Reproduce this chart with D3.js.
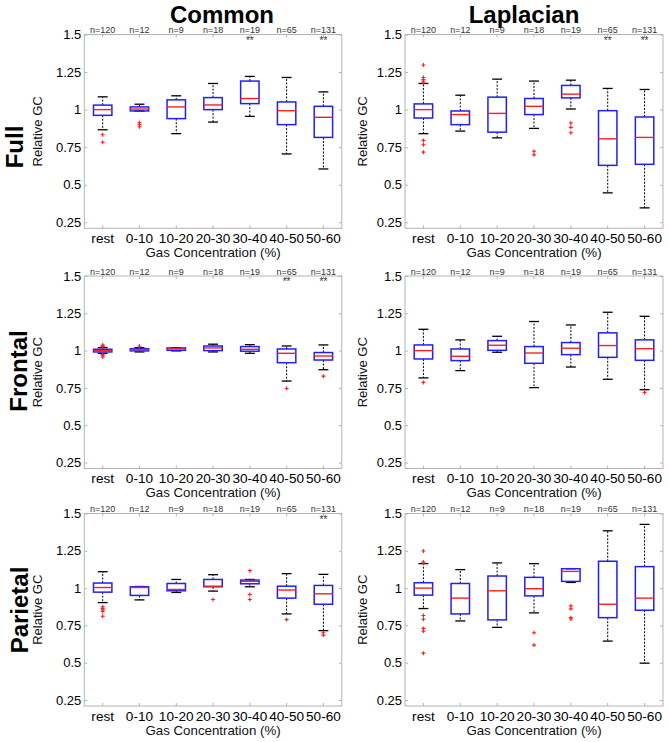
<!DOCTYPE html>
<html><head><meta charset="utf-8">
<script src="https://cdn.jsdelivr.net/npm/d3@7"></script>
<style>
body{margin:0;background:#fff;}
svg{display:block;font-family:"Liberation Sans",Arial,sans-serif;}
</style></head>
<body><svg id="chart" width="669" height="742"></svg>
<script>
// ---------- data ----------
const categories = ["rest","0-10","10-20","20-30","30-40","40-50","50-60"];
const nLabels = ["n=120","n=12","n=9","n=18","n=19","n=65","n=131"];
const yTicks = [0.25,0.5,0.75,1,1.25,1.5];
const yTickLabels = ["0.25","0.5","0.75","1","1.25","1.5"];
const colTitles = ["Common","Laplacian"];
const rowTitles = ["Full","Frontal","Parietal"];

// [lower whisker, Q1, median, Q3, upper whisker]
const fullCommonStats = [[0.866,0.962,1.0,1.03,1.085],[0.991,0.991,1.004,1.018,1.036],[0.84,0.94,1.018,1.065,1.092],[0.917,1.0,1.031,1.08,1.174],[0.955,1.04,1.074,1.19,1.221],[0.705,0.9,0.993,1.051,1.214],[0.605,0.815,0.949,1.022,1.118]];
const fullCommonOutliers = [[0.833,0.783],[0.913,0.9,0.886],[],[],[],[],[]];
const fullCommonSig = ["","","","","**","","**"];

const fullLapStats = [[0.84,0.944,1.0,1.038,1.174],[0.857,0.9,0.967,0.991,1.096],[0.812,0.85,0.975,1.083,1.203],[0.875,0.967,1.022,1.074,1.19],[1.004,1.078,1.103,1.161,1.196],[0.446,0.629,0.806,0.993,1.141],[0.346,0.636,0.815,0.951,1.134]];
const fullLapOutliers = [[1.297,1.214,1.2,1.19,1.178,0.795,0.766,0.717],[],[],[0.723,0.699],[0.911,0.882,0.846],[],[]];
const fullLapSig = ["","","","","","**","**"];

const frontalCommonStats = [[0.982,0.991,1.0,1.009,1.02],[0.991,0.998,1.007,1.013,1.02],[0.998,1.002,1.011,1.018,1.02],[0.991,1.0,1.018,1.031,1.043],[0.982,0.996,1.009,1.027,1.04],[0.796,0.919,0.982,1.011,1.031],[0.872,0.937,0.964,0.987,1.038]];
const frontalCommonOutliers = [[1.038,1.032,1.027,0.975,0.966,0.957],[1.031],[],[],[],[0.746],[0.829]];
const frontalCommonSig = ["","","","","","**","**"];

const frontalLapStats = [[0.817,0.944,1.0,1.038,1.143],[0.866,0.933,0.962,1.011,1.072],[0.989,1.002,1.036,1.067,1.096],[0.752,0.915,0.984,1.027,1.195],[0.89,0.973,1.016,1.054,1.172],[0.808,0.955,1.034,1.119,1.257],[0.738,0.935,1.013,1.072,1.23]];
const frontalLapOutliers = [[0.787],[],[],[],[],[],[0.72]];
const frontalLapSig = ["","","","","","",""];

const parietalCommonStats = [[0.903,0.973,1.004,1.034,1.11],[0.921,0.951,1.004,1.009,1.011],[0.971,0.982,0.991,1.031,1.058],[0.98,1.009,1.013,1.058,1.09],[1.009,1.029,1.045,1.054,1.058],[0.827,0.933,0.987,1.013,1.097],[0.715,0.892,0.962,1.018,1.092]];
const parietalCommonOutliers = [[0.874,0.863,0.854,0.843,0.811],[],[],[0.924],[1.117,0.957,0.924],[0.789],[0.701,0.685]];
const parietalCommonSig = ["","","","","","","**"];

const parietalLapStats = [[0.863,0.953,1.0,1.036,1.164],[0.78,0.827,0.933,1.031,1.124],[0.737,0.787,0.982,1.081,1.169],[0.834,0.948,0.996,1.072,1.164],[1.038,1.045,1.112,1.13,1.13],[0.645,0.802,0.892,1.18,1.384],[0.497,0.852,0.933,1.144,1.427]];
const parietalLapOutliers = [[1.249,1.175,1.168,0.816,0.791,0.73,0.712,0.564],[],[],[0.701,0.618],[0.881,0.861,0.802,0.793],[],[]];
const parietalLapSig = ["","","","","","",""];

const panels = [
  {row:0,col:0,stats:fullCommonStats,out:fullCommonOutliers,sig:fullCommonSig},
  {row:0,col:1,stats:fullLapStats,out:fullLapOutliers,sig:fullLapSig},
  {row:1,col:0,stats:frontalCommonStats,out:frontalCommonOutliers,sig:frontalCommonSig},
  {row:1,col:1,stats:frontalLapStats,out:frontalLapOutliers,sig:frontalLapSig},
  {row:2,col:0,stats:parietalCommonStats,out:parietalCommonOutliers,sig:parietalCommonSig},
  {row:2,col:1,stats:parietalLapStats,out:parietalLapOutliers,sig:parietalLapSig}
];

// ---------- layout ----------
const colX = [[84.3,341.8],[405,663]];
const rowY = [[34.5,228.3],[276,468.5],[513.5,706]];
const colTitleX = [222,524];
const rowTitlePos = [[23,147],[27,371],[28,610]];
const ylabX = [42,366.5];

const svg = d3.select("#chart");
const gridCol = "#b4b4b4";

colTitles.forEach((t,i)=>{
  svg.append("text").attr("x",colTitleX[i]).attr("y",22.5).attr("text-anchor","middle")
    .attr("font-size",24).attr("font-weight","bold").attr("fill","#000").text(t);
});
rowTitles.forEach((t,i)=>{
  svg.append("text").attr("transform",`translate(${rowTitlePos[i][0]},${rowTitlePos[i][1]}) rotate(-90)`)
    .attr("text-anchor","middle").attr("font-size",24).attr("font-weight","bold").attr("fill","#000").text(t);
});

panels.forEach(p=>{
  const [x0,x1] = colX[p.col];
  const [y0,y1] = rowY[p.row];
  const x = d3.scaleBand().domain(categories).range([x0,x1]).padding(0);
  const y = d3.scaleLinear().domain([0.21,1.5]).range([y1,y0]);
  const bw = x.bandwidth();
  const g = svg.append("g");

  // frame
  g.append("rect").attr("x",x0).attr("y",y0).attr("width",x1-x0).attr("height",y1-y0)
    .attr("fill","#fff").attr("stroke",gridCol).attr("stroke-width",1);

  // axes
  const fmt = v => yTickLabels[yTicks.indexOf(v)];
  const yl = g.append("g").attr("transform",`translate(${x0},0)`)
    .call(d3.axisLeft(y).tickValues(yTicks).tickFormat(fmt).tickSize(-3).tickPadding(3));
  const yr = g.append("g").attr("transform",`translate(${x1},0)`)
    .call(d3.axisRight(y).tickValues(yTicks).tickFormat("").tickSize(-3));
  const xb = g.append("g").attr("transform",`translate(0,${y1})`)
    .call(d3.axisBottom(x).tickSize(-3).tickPadding(5));
  const xt = g.append("g").attr("transform",`translate(0,${y0})`)
    .call(d3.axisTop(x).tickSize(-3).tickFormat(""));
  [yl,yr,xb,xt].forEach(a=>{
    a.select(".domain").remove();
    a.selectAll(".tick line").attr("stroke",gridCol);
    a.selectAll(".tick text").attr("fill","#000").attr("font-family","Liberation Sans, Arial, sans-serif");
  });
  yl.selectAll(".tick text").attr("font-size",13);
  xb.selectAll(".tick text").attr("font-size",13.6);

  // labels
  g.append("text").attr("transform",`translate(${ylabX[p.col]},${(y0+y1)/2}) rotate(-90)`)
    .attr("text-anchor","middle").attr("font-size",13).attr("fill","#111").text("Relative GC");
  g.append("text").attr("x",(x0+x1)/2).attr("y",y1+28.5).attr("text-anchor","middle")
    .attr("font-size",13.3).attr("fill","#111").text("Gas Concentration (%)");

  // n labels
  g.selectAll(".nlab").data(nLabels).join("text")
    .attr("x",(d,i)=>x(categories[i])+bw/2).attr("y",y0-1.5).attr("text-anchor","middle")
    .attr("font-size",9).attr("fill","#333").text(d=>d);
  // significance
  g.selectAll(".sig").data(p.sig).join("text")
    .attr("x",(d,i)=>x(categories[i])+bw/2).attr("y",y0+9).attr("text-anchor","middle")
    .attr("font-size",10).attr("fill","#333").text(d=>d);

  const boxW = bw*0.5, capW = bw*0.27;
  p.stats.forEach((s,i)=>{
    const cx = x(categories[i])+bw/2;
    const [lo,q1,md,q3,hi] = s;
    // whiskers
    g.append("line").attr("x1",cx).attr("x2",cx).attr("y1",y(q3)).attr("y2",y(hi))
      .attr("stroke","#000").attr("stroke-width",1).attr("stroke-dasharray","2,1.5");
    g.append("line").attr("x1",cx).attr("x2",cx).attr("y1",y(q1)).attr("y2",y(lo))
      .attr("stroke","#000").attr("stroke-width",1).attr("stroke-dasharray","2,1.5");
    // caps
    [hi,lo].forEach(v=>g.append("line").attr("x1",cx-capW/2).attr("x2",cx+capW/2)
      .attr("y1",y(v)).attr("y2",y(v)).attr("stroke","#000").attr("stroke-width",1.3));
    // box
    g.append("rect").attr("x",cx-boxW/2).attr("width",boxW).attr("y",y(q3))
      .attr("height",Math.max(0.5,y(q1)-y(q3))).attr("fill","none")
      .attr("stroke","#1f1fff").attr("stroke-width",1.5);
    // median
    g.append("line").attr("x1",cx-boxW/2).attr("x2",cx+boxW/2).attr("y1",y(md)).attr("y2",y(md))
      .attr("stroke","#ff1f1f").attr("stroke-width",1.4);
    // outliers
    p.out[i].forEach(v=>{
      g.append("path").attr("d",`M${cx-2},${y(v)}H${cx+2}M${cx},${y(v)-2}V${y(v)+2}`)
        .attr("stroke","#ff2020").attr("stroke-width",1.1).attr("fill","none");
    });
  });
});
</script></body></html>
